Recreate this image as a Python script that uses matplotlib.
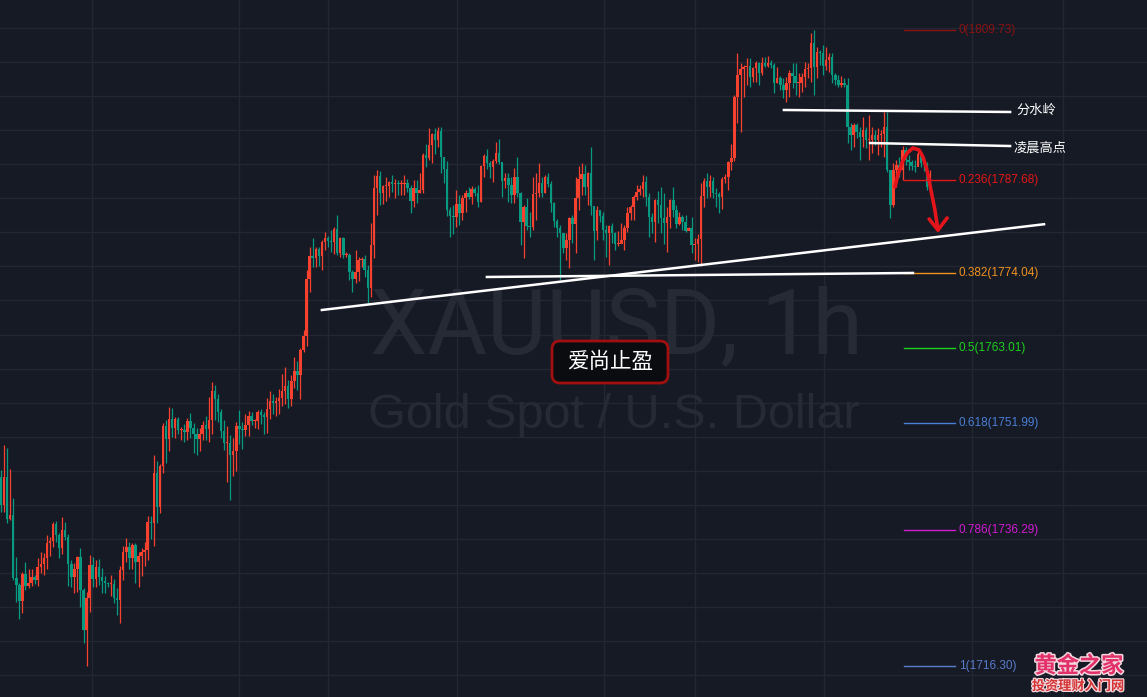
import numpy as np
import matplotlib
matplotlib.use("Agg")
import matplotlib.pyplot as plt
from matplotlib.patches import FancyBboxPatch
import matplotlib.patheffects as pe

plt.rcParams['font.family'] = ['Noto Sans CJK SC', 'DejaVu Sans']

# XAUUSD 1h candles (price), open = previous close
first_open = 1744.1
closes = [
    1740.0, 1744.1, 1737.9, 1738.5, 1729.2, 1728.2, 1725.9, 1729.8, 1728.1, 1728.5,
    1729.4, 1728.9, 1730.9, 1731.3, 1732.2, 1734.4, 1734.7, 1737.2, 1735.6, 1733.6,
    1736.3, 1735.3, 1731.3, 1729.4, 1730.6, 1732.3, 1727.5, 1721.6, 1726.3, 1731.1,
    1729.1, 1730.9, 1729.4, 1728.8, 1728.5, 1728.4, 1728.4, 1726.3, 1726.0, 1730.4,
    1733.1, 1733.8, 1732.2, 1734.1, 1731.6, 1732.5, 1733.1, 1733.3, 1737.5, 1737.3,
    1744.7, 1739.7, 1745.7, 1751.6, 1749.6, 1752.6, 1751.3, 1752.6, 1751.0, 1751.0,
    1750.7, 1752.3, 1751.3, 1750.4, 1749.6, 1750.4, 1751.7, 1751.1, 1752.4, 1756.7,
    1755.5, 1753.6, 1750.8, 1749.1, 1749.1, 1747.3, 1747.9, 1751.6, 1751.1, 1751.0,
    1751.7, 1753.0, 1752.3, 1752.3, 1753.6, 1753.2, 1752.9, 1754.1, 1755.2, 1754.9,
    1755.2, 1755.7, 1756.7, 1757.4, 1755.5, 1758.2, 1759.6, 1759.1, 1762.7, 1764.8,
    1773.2, 1776.5, 1776.2, 1777.6, 1776.5, 1778.6, 1779.2, 1778.7, 1778.6, 1780.5,
    1777.0, 1779.2, 1776.7, 1776.7, 1774.2, 1773.2, 1774.2, 1776.0, 1776.1, 1774.5,
    1771.8, 1778.1, 1786.5, 1788.3, 1785.8, 1786.8, 1786.8, 1787.4, 1787.1, 1787.3,
    1787.1, 1787.1, 1787.3, 1786.5, 1784.6, 1786.5, 1785.8, 1786.2, 1791.4, 1790.9,
    1792.8, 1794.5, 1793.6, 1794.9, 1791.1, 1789.3, 1783.3, 1782.4, 1782.3, 1784.2,
    1782.9, 1785.1, 1785.8, 1785.2, 1786.4, 1785.8, 1784.5, 1789.8, 1791.2, 1790.2,
    1789.6, 1790.5, 1791.7, 1790.3, 1787.6, 1788.0, 1787.0, 1785.5, 1788.1, 1785.8,
    1781.5, 1783.7, 1780.9, 1780.8, 1785.6, 1785.8, 1787.3, 1785.8, 1788.1, 1787.1,
    1784.3, 1781.7, 1780.6, 1779.9, 1777.7, 1778.9, 1782.1, 1781.2, 1785.1, 1787.9,
    1788.6, 1786.7, 1788.7, 1783.9, 1780.2, 1783.3, 1782.4, 1780.4, 1779.9, 1780.9,
    1779.9, 1778.3, 1778.3, 1778.9, 1780.6, 1782.9, 1783.7, 1785.2, 1785.9, 1786.4,
    1787.4, 1785.2, 1782.3, 1781.5, 1784.8, 1784.0, 1782.1, 1781.4, 1782.3, 1784.8,
    1783.3, 1781.2, 1782.3, 1781.5, 1780.2, 1780.6, 1778.1, 1778.3, 1779.0, 1785.4,
    1787.6, 1786.7, 1787.6, 1785.8, 1785.6, 1785.2, 1787.9, 1788.1, 1790.3, 1790.9,
    1799.9, 1803.1, 1804.0, 1804.3, 1804.4, 1802.8, 1804.2, 1804.9, 1803.4, 1804.9,
    1804.4, 1804.9, 1804.6, 1801.9, 1802.7, 1801.6, 1800.9, 1801.9, 1803.4, 1803.0,
    1801.9, 1801.9, 1802.8, 1804.0, 1804.2, 1807.8, 1804.3, 1806.5, 1806.4, 1804.4,
    1805.3, 1805.8, 1803.1, 1802.4, 1801.6, 1801.9, 1801.6, 1795.5, 1794.3, 1795.8,
    1794.8, 1794.0, 1795.0, 1793.6, 1793.6, 1794.3, 1793.6, 1794.3, 1794.5, 1795.5,
    1789.2, 1784.0, 1789.2, 1789.9, 1789.2, 1792.1, 1790.6, 1790.3, 1789.8, 1789.6,
    1791.5, 1790.2, 1790.0, 1786.7, 1788.6,
]
highs = [
    1745.1, 1748.8, 1748.3, 1745.2, 1741.0, 1732.3, 1728.5, 1730.1, 1731.6, 1730.6,
    1730.6, 1729.7, 1732.2, 1733.1, 1732.9, 1735.6, 1735.3, 1737.5, 1737.6, 1735.9,
    1738.2, 1737.5, 1735.7, 1731.9, 1731.4, 1732.5, 1733.6, 1727.8, 1727.2, 1732.6,
    1732.3, 1731.9, 1732.0, 1730.7, 1729.5, 1728.6, 1729.7, 1729.1, 1727.8, 1731.0,
    1733.9, 1735.1, 1734.5, 1734.4, 1734.4, 1733.1, 1733.6, 1734.5, 1738.3, 1738.3,
    1747.3, 1746.4, 1746.0, 1752.0, 1752.4, 1754.4, 1754.2, 1752.9, 1752.9, 1751.4,
    1751.9, 1752.7, 1753.5, 1752.0, 1751.3, 1751.3, 1752.3, 1753.0, 1755.8, 1758.0,
    1757.6, 1756.3, 1754.1, 1752.4, 1751.6, 1750.2, 1749.8, 1752.1, 1753.9, 1752.1,
    1753.3, 1753.8, 1753.6, 1752.6, 1753.9, 1754.1, 1753.6, 1755.7, 1756.7, 1756.3,
    1755.8, 1757.0, 1759.2, 1760.2, 1758.3, 1759.1, 1761.7, 1761.1, 1763.0, 1765.7,
    1774.5, 1777.9, 1779.2, 1777.9, 1777.9, 1778.9, 1780.1, 1779.5, 1780.4, 1780.8,
    1782.6, 1779.3, 1779.3, 1777.1, 1777.0, 1774.5, 1777.4, 1776.4, 1776.4, 1776.7,
    1775.2, 1781.4, 1788.4, 1789.2, 1789.0, 1787.0, 1788.1, 1787.6, 1788.4, 1787.9,
    1787.7, 1787.7, 1788.4, 1787.9, 1787.0, 1787.7, 1787.7, 1788.7, 1791.7, 1793.0,
    1795.3, 1794.6, 1795.3, 1795.5, 1795.5, 1791.1, 1790.5, 1783.7, 1784.0, 1786.2,
    1785.5, 1785.5, 1786.2, 1786.7, 1786.8, 1786.7, 1787.0, 1789.9, 1791.5, 1792.2,
    1790.5, 1790.8, 1793.3, 1793.7, 1790.2, 1788.7, 1788.7, 1788.1, 1789.5, 1791.1,
    1785.9, 1784.0, 1785.0, 1783.0, 1788.1, 1788.7, 1790.2, 1788.1, 1788.4, 1788.7,
    1787.6, 1784.5, 1782.0, 1781.1, 1779.9, 1779.9, 1782.3, 1782.6, 1788.1, 1789.8,
    1790.2, 1789.9, 1788.9, 1792.5, 1783.7, 1783.9, 1783.1, 1783.0, 1781.1, 1781.1,
    1781.4, 1780.1, 1780.2, 1781.4, 1781.1, 1783.7, 1784.0, 1785.5, 1787.0, 1787.0,
    1788.4, 1788.3, 1785.8, 1782.9, 1784.9, 1786.1, 1786.7, 1785.8, 1783.7, 1784.9,
    1786.7, 1784.0, 1783.0, 1782.6, 1782.6, 1780.8, 1782.3, 1779.2, 1779.8, 1787.2,
    1788.0, 1788.7, 1788.4, 1788.1, 1786.5, 1785.9, 1788.1, 1788.6, 1790.5, 1793.0,
    1800.2, 1806.4, 1804.9, 1804.6, 1805.6, 1805.6, 1804.3, 1805.2, 1805.0, 1805.8,
    1805.8, 1805.9, 1805.3, 1804.9, 1804.3, 1803.0, 1802.7, 1802.8, 1803.9, 1804.9,
    1804.9, 1803.4, 1803.4, 1805.0, 1804.9, 1809.3, 1809.7, 1807.2, 1806.8, 1807.5,
    1807.2, 1806.4, 1806.4, 1803.4, 1803.1, 1803.0, 1802.7, 1802.7, 1796.1, 1796.1,
    1796.1, 1795.5, 1797.0, 1795.5, 1797.2, 1795.5, 1795.0, 1795.3, 1795.0, 1797.7,
    1797.7, 1789.2, 1790.2, 1790.6, 1791.1, 1792.7, 1792.5, 1791.4, 1790.6, 1790.6,
    1792.1, 1791.8, 1790.6, 1790.3, 1789.2,
]
lows = [
    1738.9, 1738.9, 1737.3, 1737.8, 1728.9, 1725.7, 1723.2, 1724.1, 1727.5, 1727.8,
    1728.1, 1728.4, 1728.1, 1730.0, 1729.7, 1730.6, 1732.5, 1733.8, 1734.5, 1732.2,
    1732.8, 1734.8, 1728.1, 1727.9, 1727.0, 1727.2, 1724.9, 1719.7, 1716.3, 1724.2,
    1727.9, 1727.9, 1728.2, 1727.0, 1727.0, 1727.9, 1726.6, 1725.6, 1723.8, 1722.6,
    1728.9, 1731.6, 1730.6, 1730.6, 1728.5, 1727.9, 1729.5, 1731.0, 1731.9, 1735.0,
    1733.9, 1737.3, 1738.8, 1744.7, 1746.1, 1747.9, 1749.9, 1749.8, 1750.4, 1749.5,
    1749.2, 1749.5, 1749.8, 1747.6, 1747.3, 1747.9, 1749.5, 1749.5, 1749.2, 1750.4,
    1752.4, 1752.1, 1749.8, 1748.0, 1743.3, 1740.7, 1744.2, 1744.9, 1748.9, 1748.2,
    1750.1, 1750.1, 1751.7, 1751.3, 1751.1, 1751.9, 1750.4, 1750.5, 1752.6, 1753.3,
    1753.0, 1753.3, 1754.5, 1754.8, 1754.2, 1754.5, 1757.1, 1756.9, 1755.5, 1762.4,
    1763.3, 1771.2, 1774.9, 1774.9, 1775.0, 1774.5, 1777.4, 1777.9, 1777.1, 1776.8,
    1776.7, 1776.4, 1776.2, 1776.4, 1773.0, 1771.2, 1772.6, 1772.9, 1774.9, 1773.4,
    1769.6, 1770.5, 1776.2, 1782.6, 1784.0, 1784.2, 1784.6, 1785.2, 1785.9, 1785.1,
    1785.5, 1785.5, 1785.5, 1785.9, 1782.9, 1783.7, 1784.3, 1785.8, 1785.8, 1789.6,
    1790.6, 1790.2, 1791.5, 1792.5, 1788.7, 1787.2, 1782.4, 1779.3, 1779.8, 1780.8,
    1781.1, 1781.8, 1783.0, 1784.9, 1784.2, 1785.3, 1783.7, 1784.5, 1788.1, 1789.3,
    1788.0, 1787.4, 1790.2, 1790.0, 1785.2, 1786.5, 1784.5, 1784.3, 1784.3, 1785.2,
    1778.1, 1776.2, 1780.4, 1779.3, 1780.4, 1781.8, 1785.2, 1785.2, 1785.8, 1786.7,
    1783.0, 1780.8, 1779.3, 1773.0, 1777.0, 1775.9, 1774.8, 1778.4, 1777.0, 1783.3,
    1785.5, 1785.5, 1784.0, 1782.6, 1775.9, 1778.9, 1781.5, 1778.9, 1776.4, 1775.2,
    1778.4, 1777.4, 1778.0, 1778.4, 1777.4, 1780.1, 1781.8, 1781.8, 1784.8, 1785.5,
    1785.2, 1783.9, 1779.3, 1779.9, 1778.6, 1781.4, 1779.9, 1778.3, 1777.1, 1780.6,
    1782.3, 1780.6, 1781.1, 1780.4, 1780.1, 1780.4, 1777.0, 1775.9, 1775.6, 1775.1,
    1783.7, 1785.0, 1785.2, 1785.0, 1783.7, 1782.9, 1783.4, 1787.2, 1786.2, 1789.2,
    1790.5, 1796.1, 1794.7, 1799.9, 1801.6, 1801.3, 1802.1, 1802.1, 1801.6, 1803.1,
    1804.3, 1804.3, 1804.2, 1800.5, 1801.9, 1800.9, 1799.7, 1799.1, 1799.9, 1801.2,
    1800.2, 1799.9, 1800.6, 1801.3, 1802.7, 1802.1, 1800.2, 1802.7, 1804.6, 1803.1,
    1803.9, 1803.6, 1801.9, 1801.6, 1801.4, 1801.4, 1801.4, 1793.1, 1792.1, 1792.5,
    1793.9, 1790.6, 1792.5, 1792.4, 1790.6, 1791.7, 1792.8, 1791.4, 1792.5, 1791.1,
    1788.9, 1782.1, 1783.7, 1786.7, 1788.1, 1787.7, 1789.9, 1789.2, 1789.2, 1788.9,
    1790.0, 1789.6, 1789.0, 1786.2, 1786.7,
]

# Fibonacci retracement levels
fib_ratios = ['0', '0.236', '0.382', '0.5', '0.618', '0.786', '1']
fib_prices = [1809.73, 1787.68, 1774.04, 1763.01, 1751.99, 1736.29, 1716.30]
fib_colors = ['#8a1212', '#e51616', '#f0921e', '#1ed21e', '#4a7fd6', '#d21ad2', '#5a7ccc']

# price / time grid
grid_prices = np.arange(1715, 1811, 5)
grid_times = [29.8, 77.9, 107.0, 149.2, 197.3, 227.1, 269.3, 317.7, 347.5]

BG = '#161a25'
UP = '#f5412e'
DOWN = '#089981'

fig = plt.figure(figsize=(11.47, 6.97), dpi=100, facecolor=BG)
ax = fig.add_axes([0, 0, 1, 1], facecolor=BG)
ax.set_xlim(-0.33, 375.0)
ax.set_ylim(1711.75, 1814.14)
ax.axis('off')

for gp in grid_prices:
    ax.axhline(gp, color='#232733', lw=1, zorder=0)
for gt in grid_times:
    ax.axvline(gt, color='#232733', lw=1, zorder=0)

# watermark, first line sized to span the same width as in the chart
wm = ax.text(0.3226, 0.4935, 'XAUUSD, 1h', transform=ax.transAxes, ha='left', va='baseline',
             fontsize=66, color='#262a35', family=['Roboto'], zorder=1)
fig.canvas.draw()
w = wm.get_window_extent().width
wm.set_fontsize(66 * 492 / w)
ax.text(0.3208, 0.386, 'Gold Spot / U.S. Dollar', transform=ax.transAxes, ha='left',
        va='baseline', fontsize=35, color='#262a35', family=['Liberation Sans'], zorder=1)

# candles
c = np.array(closes)
o = np.array([first_open] + closes[:-1])
h = np.array(highs)
l = np.array(lows)
x = np.arange(len(c))
cols = np.where(c >= o, UP, DOWN)
ax.vlines(x, l, h, colors=cols, lw=0.9, zorder=3)
body = np.maximum(np.abs(c - o), 0.15)
ax.bar(x, body, bottom=np.minimum(o, c), width=0.8, color=cols, lw=0, zorder=3)

# fib levels
for r, p, col in zip(fib_ratios, fib_prices, fib_colors):
    ax.plot([295.5, 312.2], [p, p], color=col, lw=1, zorder=4)
    ax.text(313.4, p, f'{r}({p:.2f})', color=col, fontsize=8.5, va='center', ha='left',
            family=['Liberation Sans'], zorder=5)

# drawn lines
ax.plot([105.0, 341.3], [1768.6, 1781.2], color='white', lw=1.8, zorder=6)
ax.plot([159.0, 298.4], [1773.45, 1774.04], color='white', lw=1.8, zorder=6)
ax.plot([256.2, 330.2], [1797.98, 1797.69], color='white', lw=1.8, zorder=6)
ax.plot([284.4, 330.2], [1793.13, 1792.69], color='white', lw=1.8, zorder=6)
ax.text(332.2, 1798.0, '分水岭', color='white', fontsize=9.5, va='center', ha='left', zorder=7)
ax.text(331.2, 1792.4, '凌晨高点', color='white', fontsize=9.5, va='center', ha='left', zorder=7)

# red arc + arrow
arc_x = [292.5, 293.5, 294.8, 296.5, 298.4, 300.4, 301.7, 303.0, 304.3, 305.6, 306.6]
arc_y = [1786.67, 1788.43, 1790.20, 1791.67, 1792.40, 1792.11, 1791.08, 1789.17, 1786.23,
         1783.29, 1780.35]
ax.plot(arc_x, arc_y, color='#e3141a', lw=2.6, solid_capstyle='round', solid_joinstyle='round',
        zorder=8)
ax.plot([303.7, 306.6, 309.6], [1781.97, 1780.35, 1782.12], color='#e3141a', lw=2.6,
        solid_capstyle='round', solid_joinstyle='round', zorder=8)

# label box
box = FancyBboxPatch((5.52, 3.14), 1.16, 0.42, boxstyle='round,pad=0,rounding_size=0.08',
                     transform=fig.dpi_scale_trans, fc='#0b0c10', ec='#a10f0f', lw=2, zorder=9)
fig.patches.append(box)
fig.text(6.10 / 11.47, 3.35 / 6.97, '爱尚止盈', color='white', fontsize=15.5, ha='center',
         va='center', zorder=10)

# logo
fig.text(0.9407, 0.0445, '黄金之家', color='#e2306a', fontsize=16, fontweight='bold',
         ha='center', va='center',
         path_effects=[pe.withStroke(linewidth=2.2, foreground='#f3d6de')])
fig.text(0.940, 0.0158, '投资理财入门网', color='#d43434', fontsize=9.5, fontweight='bold',
         ha='center', va='center',
         path_effects=[pe.withStroke(linewidth=1.8, foreground='#f3d6de')])

fig.savefig('out.png', dpi=100, facecolor=BG)
